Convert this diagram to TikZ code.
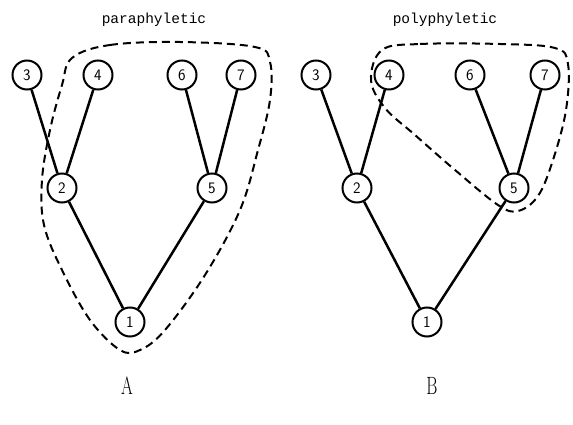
\documentclass[tikz,border=0pt]{standalone}
\usepackage{fontspec}
\newfontfamily\monof{Liberation Mono}
\begin{document}
\begin{tikzpicture}[x=1pt,y=-1pt,
  tnode/.style={circle,draw,line width=2pt,minimum size=29pt,inner sep=0pt,font=\sffamily\fontsize{16}{16}\selectfont},
  tedge/.style={line width=2.5pt},
  hull/.style={line width=2pt,dash pattern=on 8pt off 5pt},
  title/.style={font=\monof\fontsize{14.5}{15}\selectfont},
  letter/.style={font=\fontsize{25}{25}\selectfont,xscale=0.68}]
\useasboundingbox (0,0) rectangle (573,425);
% left tree
\node[tnode] (a3) at (27,75) {3};
\node[tnode] (a4) at (98,75) {4};
\node[tnode] (a6) at (182,75) {6};
\node[tnode] (a7) at (241,75) {7};
\node[tnode] (a2) at (62,188) {2};
\node[tnode] (a5) at (212,188) {5};
\node[tnode] (a1) at (130,322) {1};
\draw[tedge] (a3) -- (a2);
\draw[tedge] (a4) -- (a2);
\draw[tedge] (a6) -- (a5);
\draw[tedge] (a7) -- (a5);
\draw[tedge] (a2) -- (a1);
\draw[tedge] (a5) -- (a1);
\node[title] (ta) at (154,20) {paraphyletic};
\node[letter] (la) at (127,386) {A};
\draw[hull] plot[smooth cycle,tension=0.6] coordinates {
  (72,58) (110,45) (180,42) (255,47) (270,62) (270,100)
  (258,150) (240,210) (205,275) (165,330) (140,350) (120,350)
  (90,320) (62,270) (44,225) (42,180) (50,130) (62,85)};
% right tree
\node[tnode] (b3) at (316,75) {3};
\node[tnode] (b4) at (389,75) {4};
\node[tnode] (b6) at (470,75) {6};
\node[tnode] (b7) at (545,75) {7};
\node[tnode] (b2) at (357,188) {2};
\node[tnode] (b5) at (514,188) {5};
\node[tnode] (b1) at (427,322) {1};
\draw[tedge] (b3) -- (b2);
\draw[tedge] (b4) -- (b2);
\draw[tedge] (b6) -- (b5);
\draw[tedge] (b7) -- (b5);
\draw[tedge] (b2) -- (b1);
\draw[tedge] (b5) -- (b1);
\node[title] (tb) at (445,20) {polyphyletic};
\node[letter] (lb) at (432,386) {B};
\draw[hull] plot[smooth cycle,tension=0.6] coordinates {
  (382,50) (420,44) (500,44) (555,48) (568,64) (566,110)
  (553,160) (538,196) (518,211) (498,205)
  (455,170) (415,135) (385,108) (371,80)};
\end{tikzpicture}
\end{document}
